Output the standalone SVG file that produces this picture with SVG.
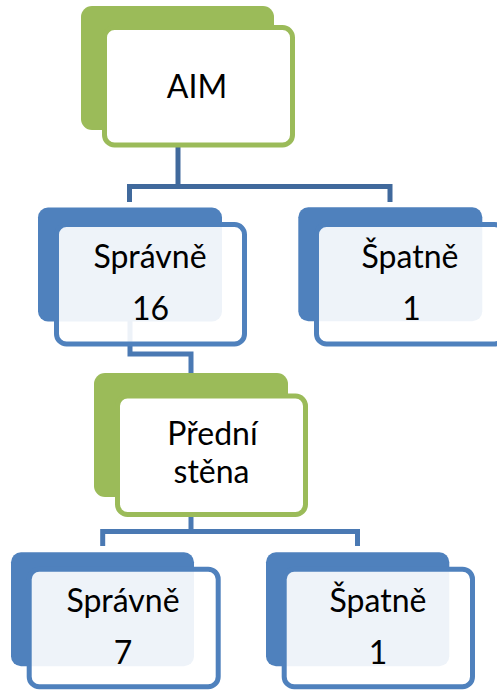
<svg xmlns="http://www.w3.org/2000/svg" width="497" height="691" viewBox="0 0 497 691">
  <style>
    .conn { fill: none; stroke-width: 5; stroke-linejoin: miter; }
    .conn-top { stroke: #40699C; }
    .conn-low { stroke: #4A79B3; }
    .back-green { fill: #9BBB59; }
    .back-blue { fill: #4F81BD; }
    .front-green { fill: #FFFFFF; stroke: #9BBB59; stroke-width: 5; }
    .front-blue { fill: #FFFFFF; fill-opacity: 0.9; stroke: #4F81BD; stroke-width: 5; }
    .label { font-family: Lato, "Open Sans", "Liberation Sans", sans-serif; font-size: 32px; fill: #000000; text-anchor: middle; }
  </style>

  <!-- connectors, drawn beneath the boxes -->
  <g id="connectors">
    <path class="conn conn-top" d="M178 146 V186.5"/>
    <path class="conn conn-top" d="M129.5 202 V186.5 H390 V202"/>
    <path class="conn conn-low" d="M130 300 V354 H191 V373"/>
    <path class="conn conn-low" d="M191 516 V531.5"/>
    <path class="conn conn-low" d="M102.7 546 V531.5 H357.5 V546"/>
  </g>

  <!-- top node -->
  <g id="node-aim">
    <rect class="back-green" x="81" y="6" width="193" height="124" rx="11"/>
    <rect class="front-green" x="104.5" y="27.5" width="188" height="117.5" rx="10"/>
    <text class="label" x="197" y="98">AIM</text>
  </g>

  <!-- second level -->
  <g id="node-spravne-16">
    <rect class="back-blue" x="38" y="207.5" width="184" height="114" rx="10"/>
    <rect class="front-blue" x="56.5" y="224.5" width="188" height="119.5" rx="10"/>
    <text class="label" x="150" y="268">Správně</text>
    <text class="label" x="150.5" y="320">16</text>
  </g>

  <g id="node-spatne-1">
    <rect class="back-blue" x="298.3" y="207.3" width="184" height="114" rx="10"/>
    <rect class="front-blue" x="316.5" y="224.5" width="188" height="119.5" rx="10"/>
    <text class="label" x="410" y="268">Špatně</text>
    <text class="label" x="411.5" y="320">1</text>
  </g>

  <!-- third level -->
  <g id="node-predni-stena">
    <rect class="back-green" x="94" y="373" width="194" height="124" rx="11"/>
    <rect class="front-green" x="117.5" y="396" width="188" height="118.5" rx="10"/>
    <text class="label" x="212.5" y="445">Přední</text>
    <text class="label" x="211.5" y="483">stěna</text>
  </g>

  <!-- bottom level -->
  <g id="node-spravne-7">
    <rect class="back-blue" x="11" y="552.3" width="183" height="114" rx="10"/>
    <rect class="front-blue" x="29.2" y="569.2" width="189" height="117.5" rx="10"/>
    <text class="label" x="123" y="612">Správně</text>
    <text class="label" x="123" y="664">7</text>
  </g>

  <g id="node-spatne-1b">
    <rect class="back-blue" x="266" y="552.3" width="183.3" height="114" rx="10"/>
    <rect class="front-blue" x="284.2" y="569.2" width="188.3" height="117.5" rx="10"/>
    <text class="label" x="378" y="612">Špatně</text>
    <text class="label" x="378" y="664">1</text>
  </g>
</svg>
